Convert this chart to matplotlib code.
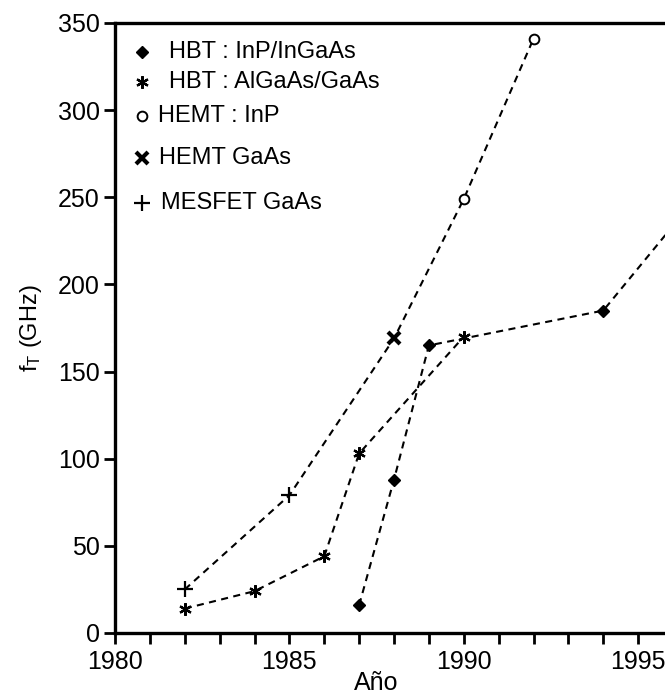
import numpy as np
import matplotlib.pyplot as plt
from matplotlib.ticker import MultipleLocator

plt.rcParams['font.family'] = ['Liberation Sans', 'DejaVu Sans']
plt.rcParams['mathtext.fontset'] = 'custom'
plt.rcParams['mathtext.rm'] = 'Liberation Sans'
plt.rcParams['mathtext.it'] = 'Liberation Sans'

# HBT InP/InGaAs
inp_hbt_year = [1987, 1988, 1989, 1994, 1997]
inp_hbt_ft = [16, 88, 165, 185, 258]
# HBT AlGaAs/GaAs
algaas_year = [1982, 1984, 1986, 1987, 1990]
algaas_ft = [14, 24, 44, 103, 170]
# MESFET GaAs -> HEMT GaAs -> HEMT InP (one dashed trend line)
trend_year = [1982, 1985, 1988, 1990, 1992]
trend_ft = [25, 79, 169, 249, 341]
mesfet_year = [1982, 1985]
mesfet_ft = [25, 79]
hemt_gaas_year = [1988]
hemt_gaas_ft = [169]
hemt_inp_year = [1990, 1992]
hemt_inp_ft = [249, 341]

legend_labels = ["HBT : InP/InGaAs", "HBT : AlGaAs/GaAs", "HEMT : InP",
                 "HEMT GaAs", "MESFET GaAs"]

W, H = 665, 700
fig = plt.figure(figsize=(W / 100, H / 100), dpi=100)
ax = fig.add_axes([115 / W, 1 - 633 / H, 1 - 115 / W, (633 - 23) / H])

dash = dict(color="black", lw=1.5, dashes=(3.4, 2.6))
ax.plot(inp_hbt_year, inp_hbt_ft, **dash)
ax.plot(algaas_year, algaas_ft, **dash)
ax.plot(trend_year, trend_ft, **dash)

mk_d = dict(marker="D", ms=6.5, color="black", ls="none")
mk_s = dict(marker=(6, 2, 0), ms=9, mew=1.6, color="black", ls="none")
mk_o = dict(marker="o", ms=7, mfc="white", mec="black", mew=1.4, ls="none")
mk_x = dict(marker="x", ms=9, mew=3.0, color="black", ls="none")
mk_p = dict(marker="+", ms=12, mew=1.6, color="black", ls="none")

ax.plot(inp_hbt_year, inp_hbt_ft, **mk_d)
ax.plot(algaas_year, algaas_ft, **mk_s)
ax.plot(hemt_inp_year, hemt_inp_ft, **mk_o)
ax.plot(hemt_gaas_year, hemt_gaas_ft, **mk_x)
ax.plot(mesfet_year, mesfet_ft, **mk_p)

# hand-made legend
leg_y = [52, 82, 116, 158, 203]
leg_tx = [169, 169, 158, 159, 161]
styles = [mk_d, mk_s, mk_o, mk_x, mk_p]
for lab, yy, tx, st in zip(legend_labels, leg_y, leg_tx, styles):
    yf = 1 - yy / H
    fig.lines.append(plt.Line2D([142 / W], [yf], transform=fig.transFigure, **st))
    fig.text(tx / W, yf, lab, fontsize=17, va="center", ha="left")

ax.set_xlim(1980, 1995.77)
ax.set_ylim(0, 350)
ax.xaxis.set_major_locator(MultipleLocator(5))
ax.xaxis.set_minor_locator(MultipleLocator(1))
ax.yaxis.set_major_locator(MultipleLocator(50))

for s in ["left", "bottom", "top"]:
    ax.spines[s].set_linewidth(2.4)
ax.spines["right"].set_visible(False)

ax.tick_params(axis="both", which="major", direction="out", length=8, width=2,
               labelsize=18, pad=3)
ax.tick_params(axis="x", which="minor", direction="out", length=8, width=2)
ax.tick_params(axis="x", which="major", pad=4)

ax.set_xlabel("Año", fontsize=18)
ax.xaxis.set_label_coords((376 - 115) / (W - 115), -0.063)
ax.set_ylabel(r"f$_{\mathrm{T}}$ (GHz)", fontsize=17, labelpad=10)

fig.savefig("out.png", dpi=100)
